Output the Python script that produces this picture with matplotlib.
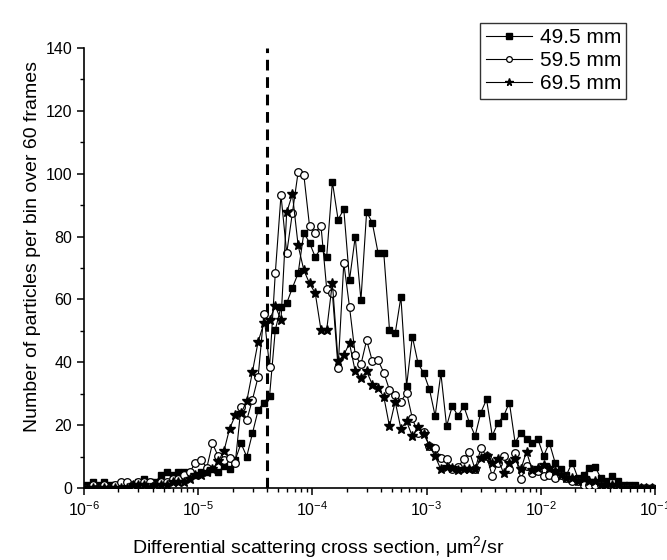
import numpy as np
import matplotlib
matplotlib.use("Agg")
import matplotlib.pyplot as plt
from matplotlib.ticker import MultipleLocator, LogLocator, NullFormatter

plt.rcParams['font.family'] = ['Liberation Sans', 'DejaVu Sans']
plt.rcParams['mathtext.fontset'] = 'custom'
plt.rcParams['mathtext.rm'] = 'Liberation Sans'
plt.rcParams['mathtext.it'] = 'Liberation Sans:italic'

# bin centres: 20 log bins per decade, 1e-6 .. 1e-1
bin_centres = np.logspace(-5.975, -1.025, 100)

# 49.5 mm (filled squares)
counts_495 = [1, 2, 1, 2, 1, 1, 0, 1, 1, 2, 3, 2, 2,
              4, 5, 4, 5, 5, 4, 4, 5, 5, 6, 5, 7, 6, 9,
              14.2, 10, 17.4, 24.8, 27.2, 29.3, 50.3, 57.6, 58.8, 63.7,
              68.3, 81.2, 78, 73.5, 76.3, 73.5, 97.4, 85.4, 88.7, 66.2,
              79.9, 59.8, 87.9, 84.3, 74.8, 74.8, 50.4, 49.2, 60.8, 32.5,
              48.2, 39.7, 36.5, 31.4, 22.9, 36.5, 19.7, 26.1, 22.9, 26.1,
              20.8, 16.6, 24, 28.2, 16.6, 20.8, 22.9, 27.2, 14.4, 17.6,
              15.5, 14.4, 15.5, 10.2, 14.4, 8.1, 5.9, 4.2, 8.1, 3.2,
              4.2, 6.3, 6.8, 3.2, 2.1, 3.8, 2.1, 1, 1, 1, 0, 0, 0]

# 59.5 mm (open circles)
counts_595 = [0, 1, 0, 1, 0, 1, 2, 2, 1, 2, 2, 2, 1, 2, 2, 3, 3, 4, 5,
              8, 9, 6.4, 14.2, 10.1, 8.9, 9.4, 8.1, 25.9, 21.6, 28.1, 35.4,
              55.4, 38.6, 68.3, 93.2, 74.7, 87.6, 100.5, 99.6, 83.3, 81.2,
              83.5, 63.4, 62, 38.2, 71.6, 57.6, 42.4, 39.3, 47.1, 40.3,
              40.7, 36.7, 31.2, 29.6, 27.5, 30.3, 22.2, 17.4, 17.9, 13.4,
              12.6, 9.4, 9.1, 5.9, 6.7, 9.1, 11.6, 5.9, 12.6, 10.2,
              3.8, 8.1, 10.2, 5.9, 11.2, 2.8, 7, 4.9, 5.3, 3.8,
              4.2, 3.2, 4.2, 3.2, 2.1, 2.1, 1, 1, 1, 1,
              0, 0, 0, 0, 0, 0, 0, 0, 0]

# 69.5 mm (filled stars)
counts_695 = [0, 0, 0, 0, 0, 0, 0, 0, 1, 1, 1, 0, 1, 1, 1, 2, 2,
              2, 3, 4, 4, 5, 6, 8.5, 11.7, 18.9, 23.1, 23.8, 27.6, 37, 46.6,
              52.4, 53.5, 57.9, 53.5, 87.7, 93.5, 77.2, 69.3, 65.1, 62,
              50.3, 50.3, 65.3, 40.3, 42.4, 46, 37.1, 35, 37.1, 32.9,
              31.7, 29.1, 19.6, 27.5, 18.9, 21.2, 16.4, 19.3, 17.2, 13.4,
              10.1, 5.9, 6.7, 6.3, 5.6, 5.9, 5.9, 5.9, 9.4, 10.2,
              8.1, 9.1, 4.7, 8.1, 9.1, 5.9, 11.6, 5.6, 6.4, 7.4,
              6.4, 5.3, 4.2, 3.2, 3.2, 2.1, 3.2, 2.1, 2.1, 1,
              1, 1, 1, 0, 0, 0, 0, 0, 0]

cutoff = 4e-5

fig = plt.figure(figsize=(6.67, 5.6), dpi=100)
ax = fig.add_axes([84/667, 72/560, 571/667, 440/560])

ax.plot(bin_centres, counts_495, '-', color='black', lw=0.8, marker='s',
        ms=5, mfc='black', mec='black', label='49.5 mm', zorder=3)
ax.plot(bin_centres, counts_595, '-', color='black', lw=0.8, marker='o',
        ms=5.5, mfc='white', mec='black', mew=0.9, label='59.5 mm', zorder=4)
ax.plot(bin_centres, counts_695, '-', color='black', lw=0.8, marker='*',
        ms=7.5, mfc='black', mec='black', label='69.5 mm', zorder=5)

ax.axvline(cutoff, color='black', lw=2.2, ls=(0, (3.5, 2.2)), zorder=2)

ax.set_xscale('log')
ax.set_xlim(1e-6, 1e-1)
ax.set_ylim(0, 140)
ax.yaxis.set_major_locator(MultipleLocator(20))
ax.yaxis.set_minor_locator(MultipleLocator(10))
ax.xaxis.set_major_locator(LogLocator(base=10, numticks=10))
ax.xaxis.set_minor_locator(LogLocator(base=10, subs=np.arange(2, 10), numticks=20))
ax.xaxis.set_minor_formatter(NullFormatter())

for s in ['top', 'right']:
    ax.spines[s].set_visible(False)
for s in ['left', 'bottom']:
    ax.spines[s].set_linewidth(1.2)

ax.tick_params(which='major', direction='out', length=5, width=1.1, labelsize=11.5)
ax.tick_params(which='minor', direction='out', length=3, width=1)

ax.set_xlabel(r'Differential scattering cross section, μm$^2$/sr', fontsize=14)
ax.set_ylabel('Number of particles per bin over 60 frames', fontsize=14)
ax.xaxis.set_label_coords(0.41, -0.105)
ax.yaxis.set_label_coords(-0.075, 0.55)

leg = ax.legend(loc='upper right', bbox_to_anchor=(0.95, 1.057), fontsize=15,
                frameon=True, fancybox=False, edgecolor='black',
                handlelength=2.2, handletextpad=0.4, borderpad=0.25,
                labelspacing=0.2, borderaxespad=0, markerscale=0.75)
leg.get_frame().set_linewidth(1.0)

fig.savefig('out.png', dpi=100)
